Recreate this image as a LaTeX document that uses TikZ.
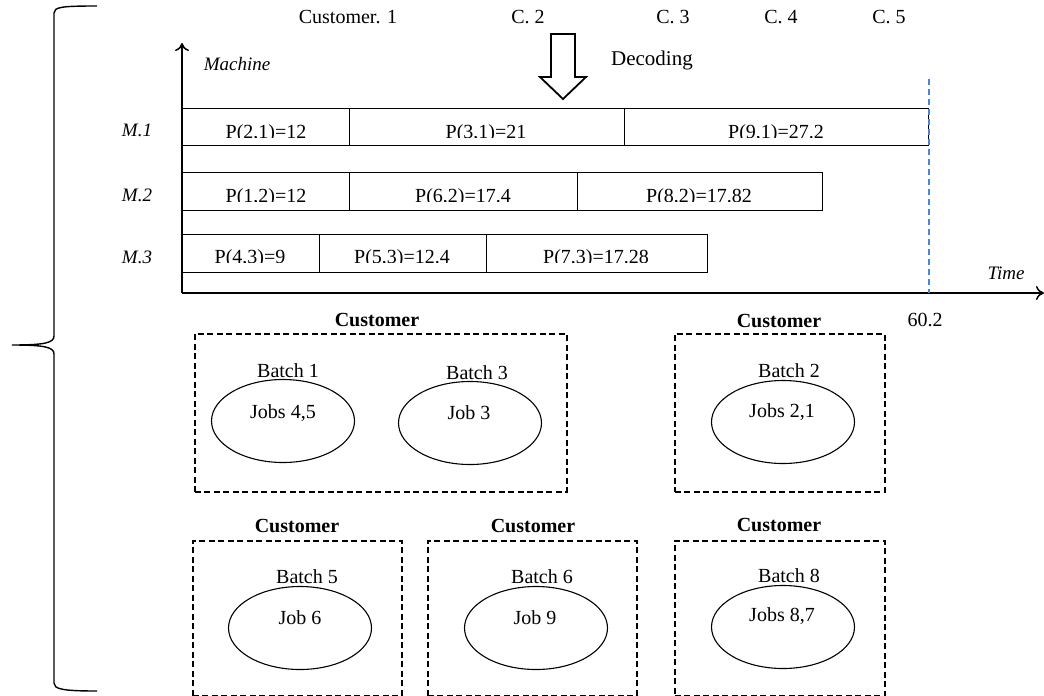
\documentclass[tikz,border=0pt]{standalone}
\usepackage{fontspec}
\setmainfont{Liberation Serif}
\usetikzlibrary{shapes.geometric,arrows.meta}
\definecolor{dashblue}{HTML}{4A86D8}
\begin{document}
\begin{tikzpicture}[x=1pt,y=-1pt,
  txt/.style={inner sep=0pt,font=\fontsize{20}{22}\selectfont},
  itl/.style={inner sep=0pt,font=\fontsize{19}{22}\selectfont\itshape},
  bld/.style={inner sep=0pt,font=\fontsize{20}{22}\selectfont\bfseries},
  seg/.style={draw,line width=1.2pt,anchor=north west,inner sep=0pt},
  ptxt/.style={inner sep=0pt,anchor=base,font=\fontsize{20}{22}\selectfont},
  cust/.style={draw,dashed,line width=1.7pt,dash pattern=on 6pt off 3.5pt,anchor=north west,inner sep=0pt},
  batch/.style={draw,ellipse,line width=1.1pt,inner sep=0pt,minimum width=143pt,minimum height=83pt},
  axis/.style={line width=1.5pt,-{To[length=8pt,width=14pt]}}
]
\useasboundingbox (0,0) rectangle (1044,696);

% brace
\draw[line width=1.4pt] (97,6) .. controls (62,6) and (54,7) .. (54,13) -- (54,336)
  .. controls (54,343) and (44,345) .. (12,345)
  .. controls (44,345) and (54,347) .. (54,354) -- (54,683)
  .. controls (54,689) and (62,691) .. (97,691);

% top labels
\node[txt] (c1) at (348,17) {Customer. 1};
\node[txt] (c2) at (528,17) {C. 2};
\node[txt] (c3) at (673,17) {C. 3};
\node[txt] (c4) at (781,17) {C. 4};
\node[txt] (c5) at (889,17) {C. 5};

% decoding arrow
\draw[line width=1.8pt,line join=miter] (551,34) -- (575,34) -- (575,77) -- (586,77) -- (563,99) -- (540,77) -- (551,77) -- cycle;
\node[txt,font=\fontsize{21}{24}\selectfont] (dec) at (652,60) {Decoding};

% bars
\node[seg,minimum width=167pt,minimum height=37pt] (s21) at (182,108) {};
\node[seg,minimum width=275pt,minimum height=37pt] (s31) at (349,108) {};
\node[seg,minimum width=304pt,minimum height=37pt] (s91) at (624,108) {};
\node[seg,minimum width=167pt,minimum height=38pt] (s12) at (182,172) {};
\node[seg,minimum width=228pt,minimum height=38pt] (s62) at (349,172) {};
\node[seg,minimum width=245pt,minimum height=38pt] (s82) at (577,172) {};
\node[seg,minimum width=137pt,minimum height=38pt] (s43) at (182,234) {};
\node[seg,minimum width=167pt,minimum height=38pt] (s53) at (319,234) {};
\node[seg,minimum width=221pt,minimum height=38pt] (s73) at (486,234) {};

\begin{scope}
\clip (182,108) rectangle (930,137.5);
\node[ptxt] (t21) at (266,138) {P(2,1)=12};
\node[ptxt] (t31) at (486,138) {P(3,1)=21};
\node[ptxt] (t91) at (776,138) {P(9,1)=27.2};
\end{scope}
\begin{scope}
\clip (182,172) rectangle (930,201.5);
\node[ptxt] (t12) at (266,202) {P(1,2)=12};
\node[ptxt] (t62) at (463,202) {P(6,2)=17.4};
\node[ptxt] (t82) at (699,202) {P(8,2)=17.82};
\end{scope}
\begin{scope}
\clip (182,234) rectangle (930,262.5);
\node[ptxt] (t43) at (250,263) {P(4,3)=9};
\node[ptxt] (t53) at (402,263) {P(5,3)=12.4};
\node[ptxt] (t73) at (596,263) {P(7,3)=17.28};
\end{scope}

% machine labels
\node[itl] (m1) at (137,130) {M.1};
\node[itl] (m2) at (137,195) {M.2};
\node[itl] (m3) at (137,257) {M.3};

% axes
\coordinate (o) at (182,293);
\coordinate (ytop) at (182,43);
\coordinate (xend) at (1044,293);
\draw[axis] (o) -- (ytop);
\draw[axis] (o) -- (xend);
\node[itl] (mach) at (237,64) {Machine};
\node[itl] (time) at (1006,273) {Time};

% completion line
\coordinate (d1) at (929,79);
\coordinate (d2) at (929,293);
\draw[dashblue,line width=1.6pt,dash pattern=on 6pt off 4pt] (d1) -- (d2);
\node[txt] (v602) at (925,320) {60.2};

% customers row 1
\node[cust,minimum width=372pt,minimum height=158pt] (k1) at (194,333) {};
\node[bld] (k1l) at (377,320) {Customer};
\node[batch] (e1) at (283,421) {};
\node[batch] (e3) at (470,423) {};
\node[txt] (b1) at (288,371) {Batch 1};
\node[txt] (b3) at (477,373) {Batch 3};
\node[txt] (j1) at (283,413) {Jobs 4,5};
\node[txt] (j3) at (469,413) {Job 3};

\node[cust,minimum width=210pt,minimum height=158pt] (k2) at (674,333) {};
\node[bld] (k2l) at (779,321) {Customer};
\node[batch] (e2) at (783,422) {};
\node[txt] (b2) at (789,371) {Batch 2};
\node[txt] (j2) at (782,412) {Jobs 2,1};

% customers row 2
\node[cust,minimum width=209pt,minimum height=155pt] (k5) at (192,540) {};
\node[bld] (k5l) at (297,526) {Customer};
\node[batch] (e5) at (300,628) {};
\node[txt] (b5) at (307,577) {Batch 5};
\node[txt] (j5) at (300,618) {Job 6};

\node[cust,minimum width=209pt,minimum height=155pt] (k6) at (427,540) {};
\node[bld] (k6l) at (533,526) {Customer};
\node[batch] (e6) at (536,628) {};
\node[txt] (b6) at (542,577) {Batch 6};
\node[txt] (j6) at (535,618) {Job 9};

\node[cust,minimum width=210pt,minimum height=155pt] (k8) at (674,540) {};
\node[bld] (k8l) at (779,525) {Customer};
\node[batch] (e8) at (783,627) {};
\node[txt] (b8) at (789,576) {Batch 8};
\node[txt] (j8) at (782,616) {Jobs 8,7};
\end{tikzpicture}
\end{document}
